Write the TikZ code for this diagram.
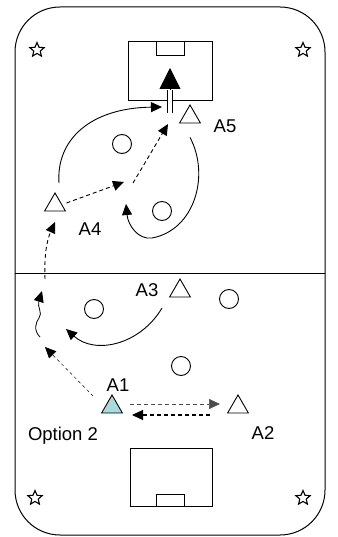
\documentclass[tikz,border=0pt]{standalone}
\usepackage{fontspec}
\setmainfont{Liberation Sans}
\usetikzlibrary{shapes.geometric, arrows.meta, positioning}

\begin{document}
\begin{tikzpicture}[
    x=1pt, y=-1pt,
    player/.style={regular polygon, regular polygon sides=3, draw, line width=0.9pt, minimum size=24pt, inner sep=0pt, fill=white},
    cone/.style={circle, draw, line width=0.9pt, minimum size=19pt, inner sep=0pt},
    corner/.style={star, star points=5, star point ratio=2.2, draw, line width=1.1pt, minimum size=15pt, inner sep=0pt},
    tag/.style={font=\fontsize{18.5}{21}\selectfont, inner sep=0pt},
    run/.style={-{Triangle[length=11pt,width=10pt]}, line width=0.9pt},
    pass/.style={-{Triangle[length=11pt,width=10pt]}, line width=0.9pt, dash pattern=on 4pt off 3pt}
]
    \useasboundingbox (0,0) rectangle (337,537);

    % Pitch
    \draw[line width=1pt, rounded corners=45pt] (15,7) rectangle (325,535);
    \draw[line width=1pt] (15,273) -- (325,273);
    \draw[line width=1pt] (128,42) rectangle (212,101);
    \draw[line width=1pt] (156,42) rectangle (184,56);
    \draw[line width=1pt] (130,448) rectangle (212,506);
    \draw[line width=1pt] (156,494) rectangle (184,506);

    % Corner flags
    \node[corner] (f1) at (37,50) {};
    \node[corner] (f2) at (303,50) {};
    \node[corner] (f3) at (35,498) {};
    \node[corner] (f4) at (303,498) {};

    % Cones
    \node[cone] (c1) at (122,144) {};
    \node[cone] (c2) at (162,211) {};
    \node[cone] (c3) at (94,309) {};
    \node[cone] (c4) at (229,299) {};
    \node[cone] (c5) at (181,366) {};

    % Players
    \node[player] (a5) at (190,117) {};
    \node[player] (a4) at (55,205) {};
    \node[player] (a3) at (180,291) {};
    \node[player] (a2) at (238,407) {};
    \node[player, fill={rgb,255:red,168;green,218;blue,222}] (a1) at (112,407) {};

    % Labels
    \node[tag] (l5) at (225,126) {A5};
    \node[tag] (l4) at (90,229) {A4};
    \node[tag] (l3) at (147,290) {A3};
    \node[tag] (l1) at (118,385) {A1};
    \node[tag] (l2) at (263,433) {A2};
    \node[tag] (opt) at (63,436) {Option 2};

    % Points on the pitch
    \coordinate (shot) at (170,113);
    \coordinate (shaft) at (170,90);
    \coordinate (goal) at (170,68);
    \coordinate (p1) at (162,107);
    \coordinate (p2) at (124,182);
    \coordinate (p3) at (133,183);
    \coordinate (p4) at (168,124);
    \coordinate (p5) at (126,204);
    \coordinate (p6) at (45,279);
    \coordinate (p7) at (55,222);
    \coordinate (p8) at (40,337);
    \coordinate (p9) at (42,291);
    \coordinate (p10) at (162,308);
    \coordinate (p11) at (66,329);
    \coordinate (p12) at (93,396);
    \coordinate (p13) at (45,347);
    \coordinate (p14) at (130,404);
    \coordinate (p15) at (220,404);
    \coordinate (p16) at (210,415);
    \coordinate (p17) at (132,415);

    % Shot on goal
    \draw[double, double distance=3.5pt, line width=0.8pt] (shot) -- (shaft);
    \draw[-{Triangle[length=21pt,width=21pt]}, line width=0.8pt] (shaft) -- (goal);

    % Runs
    \draw[run] (a4.north) ++(4,-9) .. controls (56,140) and (90,108) .. (p1);
    \draw[run] (a5.south) ++(0,14) .. controls (210,175) and (195,230) .. (152,238)
        .. controls (138,240) and (128,225) .. (p5);
    \draw[run] (p10) .. controls (140,345) and (95,355) .. (p11);
    \draw[run, line width=0.8pt] (p8) .. controls (33,330) and (36,322) .. (39,318)
        .. controls (43,313) and (37,307) .. (p9);

    % Passes
    \draw[pass] (a4.east) ++(4,-2) -- (p2);
    \draw[pass] (p3) -- (p4);
    \draw[pass] (p6) .. controls (44,255) and (47,240) .. (p7);
    \draw[pass, line width=0.5pt, dash pattern=on 3pt off 3pt] (p12) -- (p13);
    \draw[pass, draw=black!70, line width=0.7pt] (p14) -- (p15);
    \draw[pass, line width=1.1pt] (p16) -- (p17);
\end{tikzpicture}
\end{document}
